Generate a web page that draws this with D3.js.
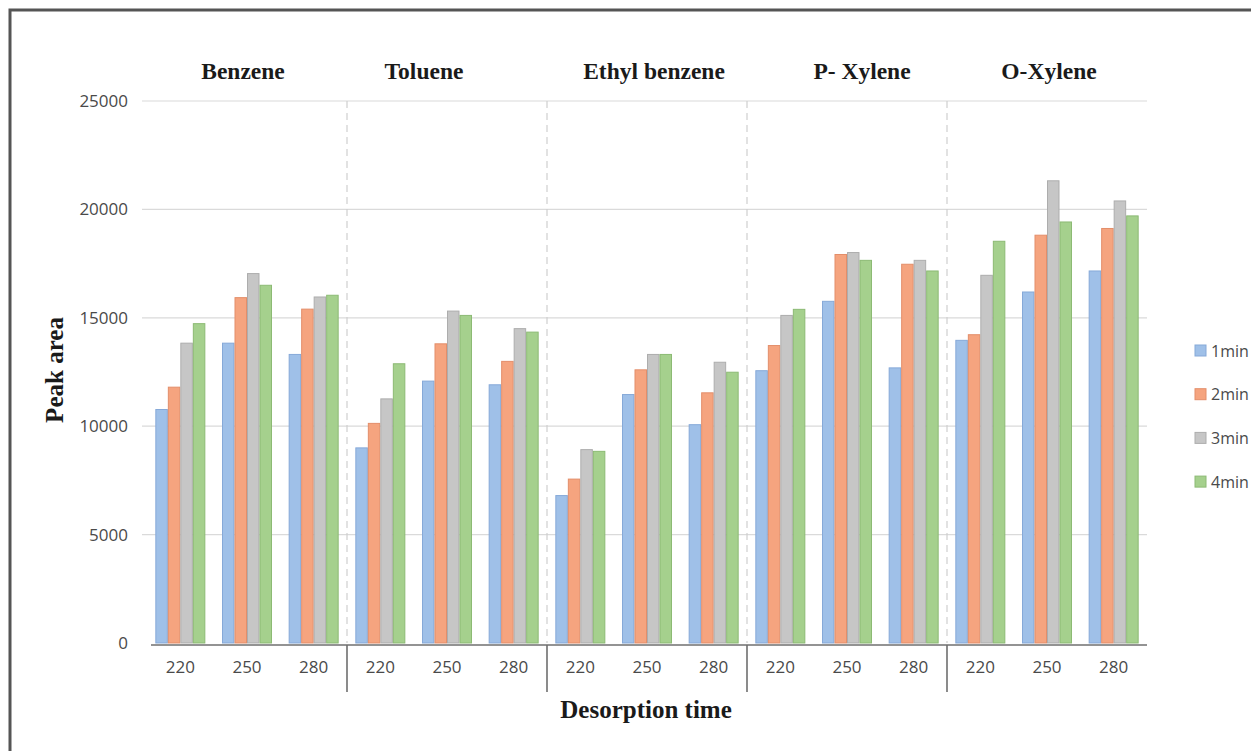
<!DOCTYPE html>
<html>
<head>
<meta charset="utf-8">
<script src="https://cdn.jsdelivr.net/npm/d3@7"></script>
<style>
  html, body { margin: 0; padding: 0; background: #fff; overflow: hidden; }
  svg { display: block; }
</style>
</head>
<body>
<svg id="chart" width="1251" height="751"></svg>
<script>
// ---- data ----
const compounds = ["Benzene", "Toluene", "Ethyl benzene", "P- Xylene", "O-Xylene"];
const temps = ["220", "250", "280"];
const seriesNames = ["1min", "2min", "3min", "4min"];
const yTicks = [0, 5000, 10000, 15000, 20000, 25000];
// values per series, order: compound x temperature (15 entries)
const min1 = [10770, 13830, 13310,  9000, 12080, 11910,  6800, 11460, 10070, 12560, 15760, 12690, 13960, 16190, 17160];
const min2 = [11800, 15930, 15400, 10130, 13800, 12990,  7560, 12600, 11540, 13720, 17920, 17470, 14220, 18810, 19120];
const min3 = [13830, 17040, 15960, 11260, 15310, 14500,  8920, 13310, 12950, 15110, 18010, 17650, 16960, 21320, 20390];
const min4 = [14730, 16500, 16040, 12880, 15110, 14340,  8840, 13310, 12490, 15390, 17650, 17160, 18530, 19420, 19700];
const seriesValues = [min1, min2, min3, min4];
const xTitle = "Desorption time";
const yTitle = "Peak area";

// ---- styles / layout ----
const fills   = ["#9fc0e8", "#f5a47f", "#c6c6c6", "#a5d08d"];
const strokes = ["#86a9d8", "#e38e6a", "#adadad", "#8cba74"];
const titleDx = [-4, -23, 7, 15, 2];

const svg = d3.select("#chart");
const plotLeft = 147, plotRight = 1147, plotTop = 101, plotBase = 643;

// outer frame
svg.append("rect").attr("x", 10).attr("y", 10).attr("width", 1270).attr("height", 780)
  .attr("fill", "none").attr("stroke", "#555").attr("stroke-width", 3);

const keys = [];
compounds.forEach(c => temps.forEach(t => keys.push(c + "|" + t)));

const x = d3.scaleBand().domain(keys).range([plotLeft, plotRight]).paddingInner(0.25).paddingOuter(0.125);
const xs = d3.scaleBand().domain(seriesNames).range([0, x.bandwidth()]).padding(0);
const y = d3.scaleLinear().domain([0, 25000]).range([plotBase, plotTop]);

// gridlines
svg.append("g").selectAll("line").data(yTicks.filter(v => v > 0)).join("line")
  .attr("x1", plotLeft - 5).attr("x2", plotRight).attr("y1", d => y(d)).attr("y2", d => y(d))
  .attr("stroke", "#dadada").attr("stroke-width", 1.2);

// y axis labels
const yAxis = d3.axisLeft(y).tickValues(yTicks).tickSize(0).tickPadding(0).tickFormat(d3.format("d"));
const gy = svg.append("g").attr("transform", `translate(${plotLeft - 19},0)`).call(yAxis);
gy.select(".domain").remove();
gy.selectAll("text").attr("font-family", "'Open Sans', 'Liberation Sans', sans-serif")
  .attr("font-size", 17).attr("fill", "#4a4a4a");

// group separators (dashed) in plot
const step = x.step();
const sepXs = compounds.slice(1).map(c => x(c + "|" + temps[0]) - x.paddingInner() * step / 2);
svg.append("g").selectAll("line").data(sepXs).join("line")
  .attr("x1", d => d).attr("x2", d => d).attr("y1", plotTop).attr("y2", plotBase)
  .attr("stroke", "#cfcfcf").attr("stroke-width", 1.2).attr("stroke-dasharray", "7,5");

// bars
const gBars = svg.append("g");
seriesNames.forEach((s, si) => {
  const rows = keys.map((k, i) => ({ k, v: seriesValues[si][i] }));
  gBars.append("g").selectAll("rect").data(rows).join("rect")
    .attr("x", d => x(d.k) + xs(s) + 0.5)
    .attr("width", xs.bandwidth() - 1)
    .attr("y", d => y(d.v))
    .attr("height", d => plotBase - y(d.v))
    .attr("fill", fills[si]).attr("stroke", strokes[si]).attr("stroke-width", 1);
});

// x axis line
svg.append("line").attr("x1", plotLeft + 4).attr("x2", plotRight).attr("y1", plotBase + 2).attr("y2", plotBase + 2)
  .attr("stroke", "#6f6f6f").attr("stroke-width", 1.6);
// group separator ticks below axis
svg.append("g").selectAll("line").data(sepXs).join("line")
  .attr("x1", d => d).attr("x2", d => d).attr("y1", plotBase + 2).attr("y2", plotBase + 49)
  .attr("stroke", "#6f6f6f").attr("stroke-width", 1.6);

// x tick labels (temperatures)
const xAxis = d3.axisBottom(x).tickSize(0).tickPadding(0).tickFormat(d => d.split("|")[1]);
const gx = svg.append("g").attr("transform", `translate(0,${plotBase + 18})`).call(xAxis);
gx.select(".domain").remove();
gx.selectAll("text").attr("font-family", "'Open Sans', 'Liberation Sans', sans-serif")
  .attr("font-size", 17).attr("fill", "#4a4a4a");

// compound titles
svg.append("g").selectAll("text").data(compounds).join("text")
  .attr("x", (c, i) => x(c + "|" + temps[1]) + x.bandwidth() / 2 + titleDx[i])
  .attr("y", 79)
  .attr("text-anchor", "middle")
  .attr("font-family", "'Liberation Serif', 'Times New Roman', serif")
  .attr("font-weight", "bold").attr("font-size", 23.5).attr("fill", "#1a1a1a")
  .text(d => d);

// axis titles
svg.append("text").attr("x", 646).attr("y", 718).attr("text-anchor", "middle")
  .attr("font-family", "'Liberation Serif', 'Times New Roman', serif")
  .attr("font-weight", "bold").attr("font-size", 25).attr("fill", "#1a1a1a").text(xTitle);
svg.append("text").attr("transform", "translate(63,370) rotate(-90)").attr("text-anchor", "middle")
  .attr("font-family", "'Liberation Serif', 'Times New Roman', serif")
  .attr("font-weight", "bold").attr("font-size", 25).attr("fill", "#1a1a1a").text(yTitle);

// legend
const lg = svg.append("g").selectAll("g").data(seriesNames).join("g")
  .attr("transform", (d, i) => `translate(1195,${351 + i * 43.7})`);
lg.append("rect").attr("x", 0).attr("y", -6).attr("width", 11).attr("height", 11)
  .attr("fill", (d, i) => fills[i]).attr("stroke", (d, i) => strokes[i]);
lg.append("text").attr("x", 16).attr("y", 0).attr("dy", "0.35em")
  .attr("font-family", "'Open Sans', 'Liberation Sans', sans-serif")
  .attr("font-size", 16).attr("fill", "#4a4a4a").text(d => d);
</script>
</body>
</html>
